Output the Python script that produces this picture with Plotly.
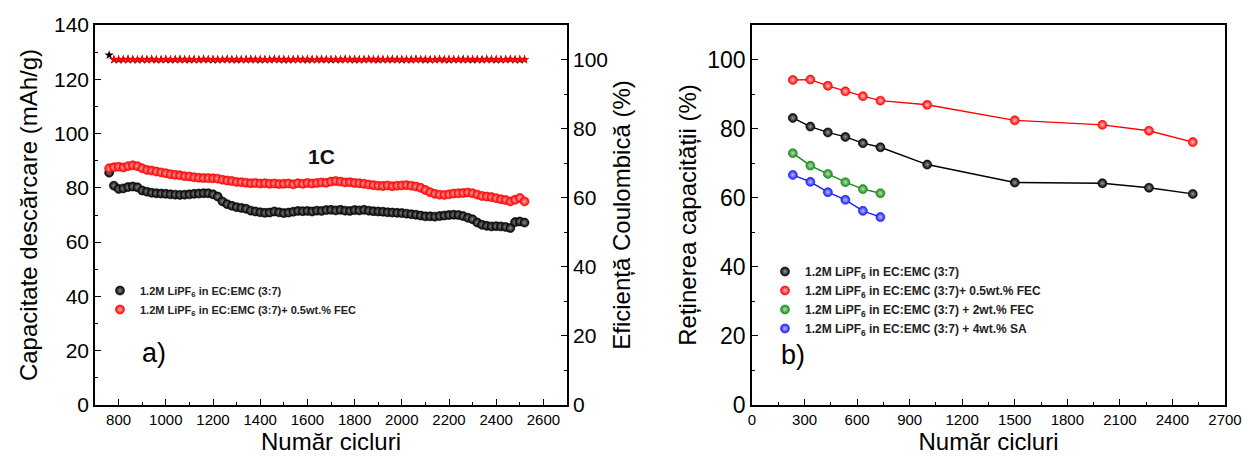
import plotly.graph_objects as go

# ---------------- data: panel a) ----------------
cycles_a = [760, 780, 800, 820, 840, 860, 880, 900, 920, 940, 960, 980, 1000, 1020, 1040, 1060, 1080, 1100,
            1120, 1140, 1160, 1180, 1200, 1220, 1240, 1260, 1280, 1300, 1320, 1340, 1360, 1380, 1400, 1420,
            1440, 1460, 1480, 1500, 1520, 1540, 1560, 1580, 1600, 1620, 1640, 1660, 1680, 1700, 1720, 1740,
            1760, 1780, 1800, 1820, 1840, 1860, 1880, 1900, 1920, 1940, 1960, 1980, 2000, 2020, 2040, 2060,
            2080, 2100, 2120, 2140, 2160, 2180, 2200, 2220, 2240, 2260, 2280, 2300, 2320, 2340, 2360, 2380,
            2400, 2420, 2440, 2460, 2480, 2500, 2520]

cap_base = [85.6, 80.8, 79.6, 79.8, 80.3, 80.5, 80.2, 79.0, 78.6, 78.2, 78.0, 77.9, 77.8, 77.6, 77.5, 77.4,
            77.5, 77.6, 77.8, 77.9, 78.0, 78.0, 77.6, 76.8, 75.0, 74.0, 73.4, 72.9, 72.6, 72.3, 71.6, 71.3,
            71.0, 70.8, 70.9, 71.3, 71.0, 70.7, 70.9, 71.2, 71.5, 71.4, 71.5, 71.3, 71.6, 71.5, 71.8, 71.9,
            71.7, 71.9, 71.6, 71.5, 71.8, 71.7, 71.9, 71.6, 71.4, 71.3, 71.2, 71.0, 70.9, 70.8, 70.7, 70.5,
            70.3, 70.1, 69.8, 69.5, 69.5, 69.4, 69.6, 69.8, 70.0, 70.1, 70.0, 69.6, 69.0, 68.4, 67.2, 66.4,
            66.0, 65.8, 65.9, 65.8, 65.6, 65.2, 67.4, 67.6, 67.2]

cap_fec = [87.2, 87.6, 87.8, 87.5, 88.0, 88.3, 88.0, 87.2, 86.6, 86.4, 86.0, 85.7, 85.4, 85.0, 84.8, 84.6,
           84.3, 84.2, 83.9, 83.7, 83.6, 83.6, 83.5, 83.4, 83.0, 82.7, 82.5, 82.2, 82.1, 81.9, 81.7, 81.8,
           81.6, 81.7, 81.5, 81.6, 81.4, 81.5, 81.6, 81.3, 81.7, 81.5, 81.8, 81.6, 81.8, 82.0, 81.9, 82.3,
           82.5, 82.3, 82.0, 82.1, 81.8, 81.7, 81.5, 81.2, 81.0, 80.8, 80.7, 80.9, 80.6, 80.8, 80.9, 81.0,
           80.8, 80.5, 80.0, 79.2, 78.4, 77.8, 77.5, 77.4, 77.6, 77.9, 78.0, 78.1, 78.3, 78.0, 77.5, 77.0,
           76.8, 76.6, 76.2, 75.8, 75.5, 75.0, 75.6, 76.3, 75.0]

ce_base = [101.3, 100.0, 99.9, 100.0, 100.1, 100.0, 99.9, 100.0, 100.0, 100.1, 99.9, 100.0, 100.0, 99.9,
           100.0, 100.1, 100.0, 99.9, 100.0, 100.0, 100.1, 100.0, 99.9, 100.0, 100.0, 100.1, 100.0, 99.9,
           100.0, 100.0, 100.1, 100.0, 99.9, 100.0, 100.0, 100.1, 100.0, 99.9, 100.0, 100.0, 100.1, 100.0,
           99.9, 100.0, 100.0, 100.1, 100.0, 99.9, 100.0, 100.0, 100.1, 100.0, 99.9, 100.0, 100.0, 100.1,
           100.0, 99.9, 100.0, 100.0, 100.1, 100.0, 99.9, 100.0, 100.0, 100.1, 100.0, 99.9, 100.0, 100.0,
           100.1, 100.0, 99.9, 100.0, 100.0, 100.1, 100.0, 99.9, 100.0, 100.0, 100.1, 100.0, 99.9, 100.0,
           100.0, 100.1, 100.0, 99.9, 100.0]

ce_fec = [99.9, 100.0, 100.1, 100.0, 99.9, 100.0, 100.0, 100.1, 99.9, 100.0, 100.0, 99.9, 100.1, 100.0,
          100.0, 99.9, 100.0, 100.1, 100.0, 99.9, 100.0, 100.0, 100.1, 99.9, 100.0, 100.0, 99.9, 100.1,
          100.0, 100.0, 99.9, 100.0, 100.1, 100.0, 99.9, 100.0, 100.0, 100.1, 99.9, 100.0, 100.0, 99.9,
          100.1, 100.0, 100.0, 99.9, 100.0, 100.1, 100.0, 99.9, 100.0, 100.0, 100.1, 99.9, 100.0, 100.0,
          99.9, 100.1, 100.0, 100.0, 99.9, 100.0, 100.1, 100.0, 99.9, 100.0, 100.0, 100.1, 99.9, 100.0,
          100.0, 99.9, 100.1, 100.0, 100.0, 99.9, 100.0, 100.1, 100.0, 99.9, 100.0, 100.0, 100.1, 99.9,
          100.0, 100.0, 99.9, 100.1, 100.0]

# ---------------- data: panel b) ----------------
cycles_long = [233, 333, 433, 533, 633, 733, 1000, 1500, 2000, 2266, 2516]
cycles_short = [233, 333, 433, 533, 633, 733]
ret_base = [83.1, 80.6, 78.9, 77.6, 75.8, 74.6, 69.6, 64.4, 64.2, 62.9, 61.1]
ret_fec05 = [94.1, 94.2, 92.4, 90.8, 89.4, 88.1, 86.9, 82.4, 81.1, 79.4, 76.1]
ret_fec2 = [72.9, 69.3, 66.9, 64.5, 62.5, 61.3]
ret_sa4 = [66.6, 64.6, 61.6, 59.4, 56.2, 54.4]

name_base = "1.2M LiPF<sub>6</sub> in EC:EMC (3:7)"
name_fec05 = "1.2M LiPF<sub>6</sub> in EC:EMC (3:7)+ 0.5wt.% FEC"
name_fec2 = "1.2M LiPF<sub>6</sub> in EC:EMC (3:7) + 2wt.% FEC"
name_sa4 = "1.2M LiPF<sub>6</sub> in EC:EMC (3:7) + 4wt.% SA"

BLACK = "#000000"
RED = "#ff0000"
GREEN = "#1a8a1a"
BLUE = "#1a1aff"
FONT = "Liberation Sans, Arial, sans-serif"


def sphere(color, hl, size, line=None):
    return dict(symbol="circle", size=size, color=color,
                gradient=dict(type="radial", color=hl),
                line=dict(width=0.6, color=line or color))


fig = go.Figure()

# Coulombic efficiency (secondary axis)
fig.add_trace(go.Scatter(x=cycles_a, y=ce_base, mode="markers", xaxis="x", yaxis="y3",
                         marker=dict(symbol="star", size=7, color=BLACK), showlegend=False))
fig.add_trace(go.Scatter(x=cycles_a[1:], y=ce_fec[1:], mode="markers", xaxis="x", yaxis="y3",
                         marker=dict(symbol="star", size=7, color=RED, line=dict(width=0)),
                         showlegend=False))

# Discharge capacity
fig.add_trace(go.Scatter(x=cycles_a, y=cap_base, mode="markers", xaxis="x", yaxis="y",
                         marker=sphere(BLACK, "#8a8a8a", 9), name=name_base, legend="legend"))
fig.add_trace(go.Scatter(x=cycles_a, y=cap_fec, mode="markers", xaxis="x", yaxis="y",
                         marker=sphere(RED, "#ffb0b0", 9), name=name_fec05, legend="legend"))

# Capacity retention: connecting lines (no legend) + markers (legend)
series_b = [
    (cycles_long, ret_base, BLACK, "#9a9a9a", name_base),
    (cycles_long, ret_fec05, RED, "#ffc0c0", name_fec05),
    (cycles_short, ret_fec2, GREEN, "#b0e0b0", name_fec2),
    (cycles_short, ret_sa4, BLUE, "#c0c0ff", name_sa4),
]
for xs, ys, col, hl, nm in series_b:
    fig.add_trace(go.Scatter(x=xs, y=ys, mode="lines", xaxis="x2", yaxis="y2",
                             line=dict(color=col, width=1.4), showlegend=False))
for xs, ys, col, hl, nm in series_b:
    fig.add_trace(go.Scatter(x=xs, y=ys, mode="markers", xaxis="x2", yaxis="y2",
                             marker=sphere(col, hl, 9), name=nm, legend="legend2"))

ydom = [1 - 405 / 461, 1 - 25 / 461]
axis_common = dict(showline=True, linecolor="black", linewidth=1.6, ticks="inside", ticklen=6,
                   tickwidth=1.4, tickcolor="black", showgrid=False, zeroline=False, automargin=False,
                   minor=dict(ticks="inside", ticklen=3.5, tickwidth=1.2, tickcolor="black"),
                   tickfont=dict(family=FONT, size=15, color="black"))
TITLE_SIZE = 24

fig.update_layout(
    width=1243, height=461, autosize=False,
    margin=dict(l=0, r=0, t=0, b=0, autoexpand=False),
    paper_bgcolor="white", plot_bgcolor="white",
    font=dict(family=FONT, color="black"),
    xaxis=dict(axis_common, domain=[95 / 1243, 567 / 1243], range=[700, 2700], tick0=800, dtick=200,
               mirror=True, anchor="y", minor=dict(axis_common["minor"], dtick=100),
               title=dict(text="Număr cicluri", font=dict(size=TITLE_SIZE), standoff=6)),
    yaxis=dict(axis_common, domain=ydom, range=[0, 140], dtick=20, anchor="x",
               minor=dict(axis_common["minor"], dtick=10),
               tickfont=dict(family=FONT, size=21, color="black"),
               title=dict(text="Capacitate descărcare (mAh/g)", font=dict(size=TITLE_SIZE), standoff=10)),
    yaxis3=dict(axis_common, domain=ydom, range=[0, 110], dtick=20, overlaying="y", side="right",
                anchor="x", minor=dict(axis_common["minor"], dtick=10),
                tickfont=dict(family=FONT, size=21, color="black"),
                title=dict(text="Eficiență Coulombică (%)", font=dict(size=TITLE_SIZE), standoff=6)),
    xaxis2=dict(axis_common, domain=[752 / 1243, 1225 / 1243], range=[0, 2700], dtick=300,
                mirror=True, anchor="y2", minor=dict(axis_common["minor"], dtick=150),
                title=dict(text="Număr cicluri", font=dict(size=TITLE_SIZE), standoff=6)),
    yaxis2=dict(axis_common, domain=ydom, range=[0, 110], dtick=20, mirror=True, anchor="x2",
                minor=dict(axis_common["minor"], dtick=10),
                tickfont=dict(family=FONT, size=23, color="black"),
                title=dict(text="Reținerea capacității (%)", font=dict(size=TITLE_SIZE), standoff=4)),
    legend=dict(x=100 / 1243, y=1 - 276 / 461, xanchor="left", yanchor="top",
                bgcolor="rgba(0,0,0,0)", tracegroupgap=0,
                font=dict(family=FONT, size=11, color="#222222", weight="bold"),
                itemwidth=30),
    legend2=dict(x=765 / 1243, y=1 - 257 / 461, xanchor="left", yanchor="top",
                 bgcolor="rgba(0,0,0,0)", tracegroupgap=0,
                 font=dict(family=FONT, size=12, color="#222222", weight="bold"),
                 itemwidth=30),
    annotations=[
        dict(text="<b>1C</b>", x=1660, y=91.5, xref="x", yref="y", showarrow=False,
             font=dict(family=FONT, size=21, color="#111111")),
        dict(text="a)", x=140 / 1243, y=1 - 370 / 461, xref="paper", yref="paper", showarrow=False,
             font=dict(family=FONT, size=27, color="black")),
        dict(text="b)", x=793 / 1243, y=1 - 372 / 461, xref="paper", yref="paper", showarrow=False,
             font=dict(family=FONT, size=27, color="black")),
    ],
)

fig.write_html("out.html")
